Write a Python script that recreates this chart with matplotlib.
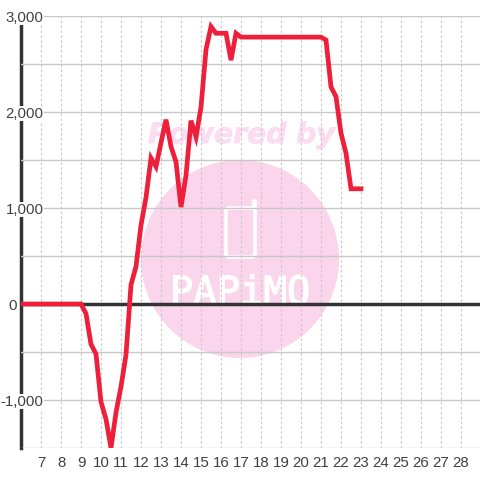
import matplotlib
matplotlib.use('Agg')
import matplotlib.pyplot as plt
import matplotlib.patheffects as pe
from matplotlib.patches import Circle, FancyBboxPatch
from matplotlib.lines import Line2D
from matplotlib.transforms import Affine2D

plt.rcParams['font.family'] = ['Liberation Sans', 'DejaVu Sans']

# hour of day, one point every 15 minutes
hours = [6, 6.25, 6.5, 6.75, 7, 7.25, 7.5, 7.75, 8, 8.25, 8.5, 8.75,
         9, 9.25, 9.5, 9.75, 10, 10.25, 10.5, 10.75, 11, 11.25, 11.5, 11.75,
         12, 12.25, 12.5, 12.75, 13, 13.25, 13.5, 13.75, 14, 14.25, 14.5, 14.75,
         15, 15.25, 15.5, 15.75, 16, 16.25, 16.5, 16.75, 17, 17.25, 17.5, 17.75,
         18, 18.25, 18.5, 18.75, 19, 19.25, 19.5, 19.75, 20, 20.25, 20.5, 20.75,
         21, 21.25, 21.5, 21.75, 22, 22.25, 22.5, 22.75, 23]
values = [0, 0, 0, 0, 0, 0, 0, 0, 0, 0, 0, 0,
          0, -100, -420, -520, -1020, -1200, -1500, -1130, -860, -530, 200, 390,
          820, 1110, 1520, 1430, 1680, 1920, 1640, 1480, 1010, 1340, 1910, 1740,
          2050, 2650, 2890, 2820, 2820, 2820, 2540, 2820, 2780, 2780, 2780, 2780,
          2780, 2780, 2780, 2780, 2780, 2780, 2780, 2780, 2780, 2780, 2780, 2780,
          2780, 2750, 2260, 2160, 1780, 1570, 1200, 1200, 1200]
x_ticks = list(range(7, 29))
y_ticks = [-1000, 0, 1000, 2000, 3000]
y_labels = ['-1,000', '0', '1,000', '2,000', '3,000']
y_minor = [-1500, -500, 500, 1500, 2500]

fig = plt.figure(figsize=(4.8, 4.8), dpi=100)
fig.patch.set_facecolor('white')

# watermark sits behind the axes, placed in image pixels (y down)
px = Affine2D().scale(1, -1).translate(0, 480)
pink = '#fbd5ec'
fig.add_artist(Circle((240, 259), 99, color=pink, lw=0, transform=px, zorder=0))
fig.text(241.5 / 480, 1 - 135 / 480, 'Powered by', family='DejaVu Sans', weight='bold',
         style='italic', size=20.3, color='#fcdcf0', ha='center', va='center', zorder=0,
         path_effects=[pe.withStroke(linewidth=0.6, foreground='#fcdcf0')])
fig.add_artist(FancyBboxPatch((226, 208), 29, 49, boxstyle='round,pad=0,rounding_size=3',
                              fc='none', ec='white', lw=2.6, transform=px, zorder=0))
fig.add_artist(Line2D([253.5, 253.5], [201, 208], color='white', lw=3.4, transform=px,
                      solid_capstyle='round', zorder=0))
fig.text(240 / 480, 1 - 304 / 480, 'PAPiMO', family='DejaVu Sans Mono', size=28,
         color='white', ha='center', va='baseline', zorder=0,
         path_effects=[pe.withStroke(linewidth=0.9, foreground='white')])

ax = fig.add_axes([21 / 480, 32 / 480, 460 / 480, 432 / 480])
ax.set_zorder(5)
ax.patch.set_alpha(0)
ax.set_xlim(6, 29)
ax.set_ylim(-1500, 3000)

ax.set_xticks(x_ticks)
ax.set_yticks(y_ticks)
ax.set_yticklabels(y_labels)
ax.set_yticks(y_minor, minor=True)
ax.grid(axis='x', color='#c8c8c8', lw=0.8, ls=(0, (2.2, 2.2)))
ax.grid(axis='y', which='both', color='#c8c8c8', lw=1.0)
ax.set_axisbelow(False)
ax.tick_params(axis='both', which='both', length=0, labelsize=10.8, labelcolor='#404040')
ax.tick_params(axis='x', pad=6)

for s in ['top', 'right', 'bottom']:
    ax.spines[s].set_visible(False)
ax.spines['left'].set_color('#333333')
ax.spines['left'].set_linewidth(2.5)

for tick, lab in zip(ax.yaxis.get_major_ticks(), y_labels):
    tick.set_pad(3.2 if lab == '0' else -16.2)
    tick.label1.set_bbox(dict(fc='white', ec='none', pad=0.6))

ax.axhline(0, color='#333333', lw=2.5, zorder=4)
ax.plot(hours, values, color='#ee1f3b', lw=3.4, zorder=5, solid_joinstyle='miter',
        solid_capstyle='projecting', clip_on=True)

fig.savefig('out.png', dpi=100)
